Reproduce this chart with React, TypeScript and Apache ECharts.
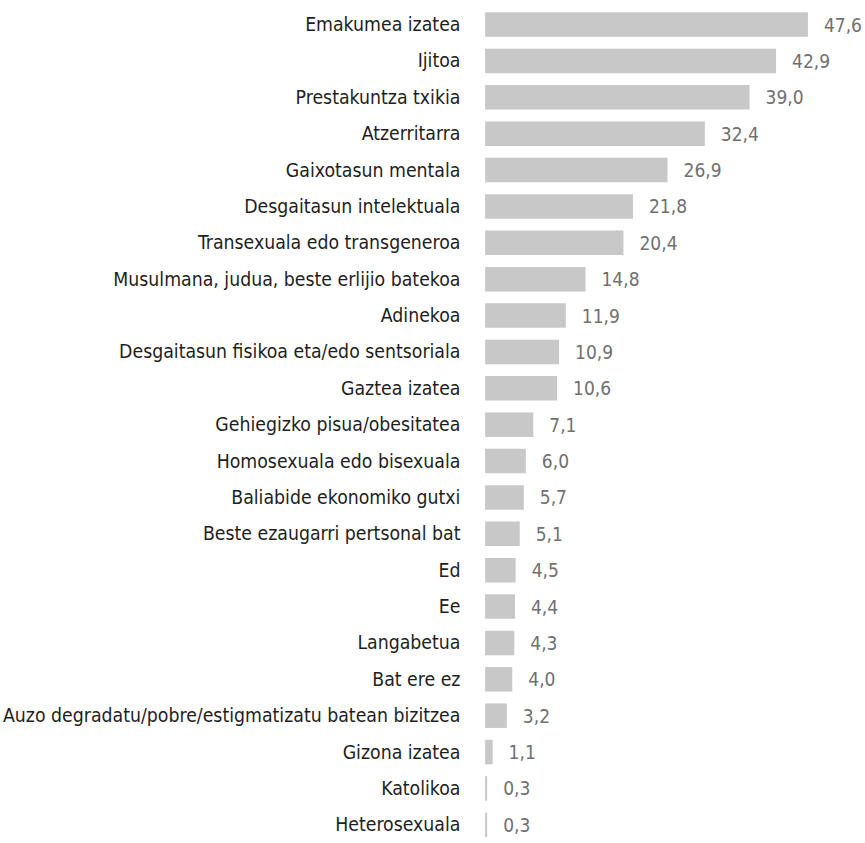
import React, { useEffect, useRef } from "react";
import * as echarts from "echarts";

const categories = [
  "Emakumea izatea",
  "Ijitoa",
  "Prestakuntza txikia",
  "Atzerritarra",
  "Gaixotasun mentala",
  "Desgaitasun intelektuala",
  "Transexuala edo transgeneroa",
  "Musulmana, judua, beste erlijio batekoa",
  "Adinekoa",
  "Desgaitasun fisikoa eta/edo sentsoriala",
  "Gaztea izatea",
  "Gehiegizko pisua/obesitatea",
  "Homosexuala edo bisexuala",
  "Baliabide ekonomiko gutxi",
  "Beste ezaugarri pertsonal bat",
  "Ed",
  "Ee",
  "Langabetua",
  "Bat ere ez",
  "Auzo degradatu/pobre/estigmatizatu batean bizitzea",
  "Gizona izatea",
  "Katolikoa",
  "Heterosexuala",
];

const values = [
  47.6, 42.9, 39.0, 32.4, 26.9, 21.8, 20.4, 14.8, 11.9, 10.9, 10.6, 7.1, 6.0,
  5.7, 5.1, 4.5, 4.4, 4.3, 4.0, 3.2, 1.1, 0.3, 0.3,
];

const FONT = "'Liberation Sans Narrow', 'DejaVu Sans Condensed', 'Roboto Condensed', Roboto, sans-serif";

export default function App() {
  const ref = useRef<HTMLDivElement>(null);
  useEffect(() => {
    if (!ref.current) return;
    const chart = echarts.init(ref.current, undefined, { renderer: "svg" });
    const pxPerUnit = 7.07;
    const rowH = 36.6;
    chart.setOption({
      animation: false,
      backgroundColor: "#ffffff",
      grid: {
        left: 470.7,
        top: 24.7 - rowH / 2,
        width: 50 * pxPerUnit,
        height: rowH * categories.length,
        containLabel: false,
      },
      xAxis: {
        type: "value",
        min: 0,
        max: 50,
        show: false,
      },
      yAxis: {
        type: "category",
        data: categories,
        inverse: true,
        axisLine: { show: false },
        axisTick: { show: false },
        splitLine: { show: false },
        axisLabel: {
          margin: 24.7,
          color: "#1e1e1e",
          fontSize: 19.3,
          fontFamily: FONT,
        },
      },
      series: [
        {
          type: "bar",
          data: values,
          barWidth: 24.5,
          itemStyle: { color: "#c8c8c8" },
          label: {
            show: true,
            position: "right",
            distance: 16,
            color: "#707070",
            fontSize: 19,
            fontFamily: FONT,
            formatter: (p: any) => Number(p.value).toFixed(1).replace(".", ","),
          },
        },
      ],
    });
    return () => chart.dispose();
  }, []);
  return (
    <div
      ref={ref}
      style={{ position: "absolute", left: 0, top: 0, width: 865, height: 843 }}
    />
  );
}
